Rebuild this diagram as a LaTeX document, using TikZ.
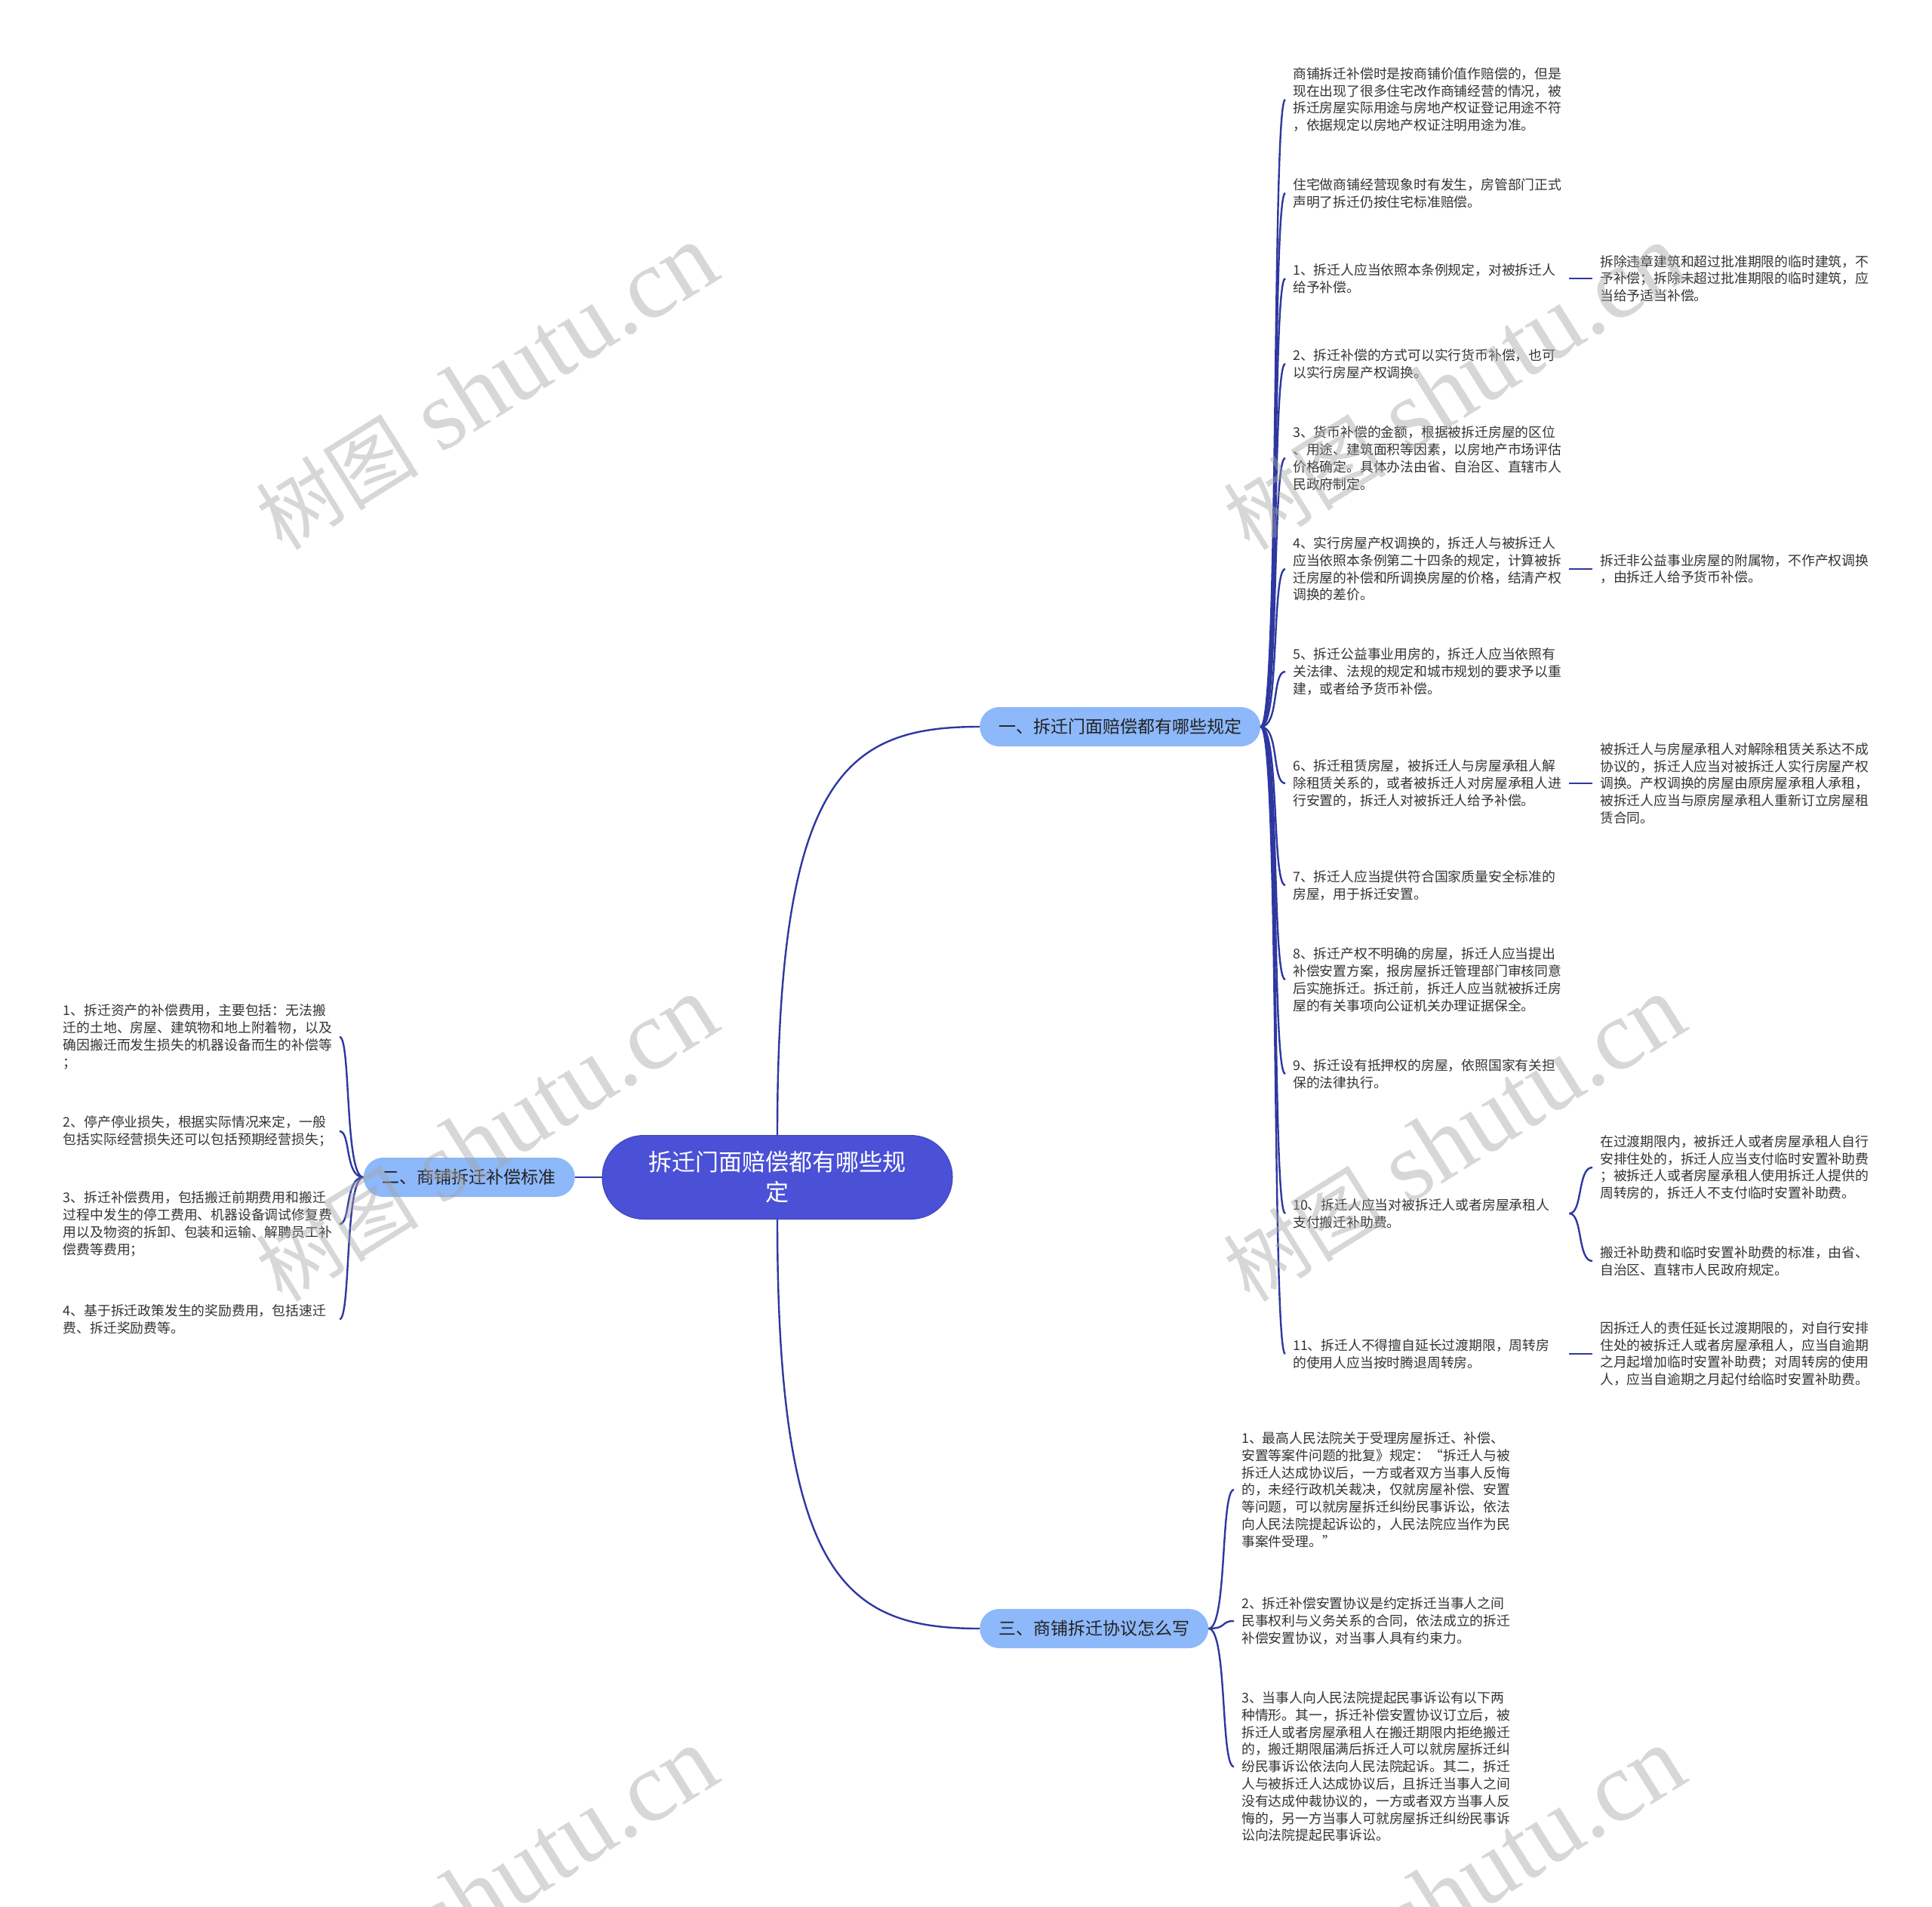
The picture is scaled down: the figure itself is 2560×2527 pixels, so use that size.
\documentclass[tikz,border=0pt]{standalone}
\usepackage{fontspec}
\setmainfont{Noto Sans CJK SC}
\newfontfamily\wmlatin{Liberation Serif}
\definecolor{rootblue}{RGB}{74,81,214}
\definecolor{branchblue}{RGB}{141,184,250}
\definecolor{linkblue}{RGB}{46,56,160}
\definecolor{leaftext}{RGB}{51,51,51}
\definecolor{branchtext}{RGB}{34,34,34}

\begin{document}
\begin{tikzpicture}[x=1pt, y=-1pt,
    rootnode/.style={fill=rootblue, draw=rootblue!85!black, line width=1pt, rounded corners=55pt,
        minimum width=464pt, minimum height=111pt, text=white, align=center,
        font=\fontsize{31}{40}\selectfont},
    branch/.style={fill=branchblue, rounded corners=26pt, minimum height=52pt, inner xsep=25pt,
        text=branchtext, font=\fontsize{23}{28}\selectfont},
    leaf/.style={text width=356pt, align=left, inner xsep=10pt, inner ysep=2pt, text=leaftext,
        font=\fontsize{17.8}{22.8}\selectfont},
    link/.style={draw=linkblue, line width=2.4pt},
    wmtext/.style={text=black!35, text opacity=0.45, rotate=32, inner sep=0pt}]
    \useasboundingbox (0,0) rectangle (2560,2527);

    % Centre and the three sections
    \node[rootnode] (root) at (1030,1560) {拆迁门面赔偿都有哪些规\\定};
    \node[branch, anchor=west] (rule) at (1298,963) {一、拆迁门面赔偿都有哪些规定};
    \node[branch, anchor=east] (std) at (762,1560) {二、商铺拆迁补偿标准};
    \node[branch, anchor=west] (deal) at (1298,2158) {三、商铺拆迁协议怎么写};

    \draw[link] (root.north) .. controls +(0,-475) and +(-178,0) .. (rule.west);
    \draw[link] (root.west) -- (std.east);
    \draw[link] (root.south) .. controls +(0,475) and +(-178,0) .. (deal.west);

    % Section one items
    \node[leaf, anchor=west] (rule1) at (1703,132) {商铺拆迁补偿时是按商铺价值作赔偿的，但是\\现在出现了很多住宅改作商铺经营的情况，被\\拆迁房屋实际用途与房地产权证登记用途不符\\，依据规定以房地产权证注明用途为准。};
    \node[leaf, anchor=west] (rule2) at (1703,256) {住宅做商铺经营现象时有发生，房管部门正式\\声明了拆迁仍按住宅标准赔偿。};
    \node[leaf, anchor=west] (rule3) at (1703,369) {1、拆迁人应当依照本条例规定，对被拆迁人\\给予补偿。};
    \node[leaf, anchor=west] (rule4) at (1703,482) {2、拆迁补偿的方式可以实行货币补偿，也可\\以实行房屋产权调换。};
    \node[leaf, anchor=west] (rule5) at (1703,607) {3、货币补偿的金额，根据被拆迁房屋的区位\\、用途、建筑面积等因素，以房地产市场评估\\价格确定。具体办法由省、自治区、直辖市人\\民政府制定。};
    \node[leaf, anchor=west] (rule6) at (1703,754) {4、实行房屋产权调换的，拆迁人与被拆迁人\\应当依照本条例第二十四条的规定，计算被拆\\迁房屋的补偿和所调换房屋的价格，结清产权\\调换的差价。};
    \node[leaf, anchor=west] (rule7) at (1703,890) {5、拆迁公益事业用房的，拆迁人应当依照有\\关法律、法规的规定和城市规划的要求予以重\\建，或者给予货币补偿。};
    \node[leaf, anchor=west] (rule8) at (1703,1038) {6、拆迁租赁房屋，被拆迁人与房屋承租人解\\除租赁关系的，或者被拆迁人对房屋承租人进\\行安置的，拆迁人对被拆迁人给予补偿。};
    \node[leaf, anchor=west] (rule9) at (1703,1173) {7、拆迁人应当提供符合国家质量安全标准的\\房屋，用于拆迁安置。};
    \node[leaf, anchor=west] (rule10) at (1703,1298) {8、拆迁产权不明确的房屋，拆迁人应当提出\\补偿安置方案，报房屋拆迁管理部门审核同意\\后实施拆迁。拆迁前，拆迁人应当就被拆迁房\\屋的有关事项向公证机关办理证据保全。};
    \node[leaf, anchor=west] (rule11) at (1703,1423) {9、拆迁设有抵押权的房屋，依照国家有关担\\保的法律执行。};
    \node[leaf, anchor=west] (rule12) at (1703,1608) {10、拆迁人应当对被拆迁人或者房屋承租人\\支付搬迁补助费。};
    \node[leaf, anchor=west] (rule13) at (1703,1794) {11、拆迁人不得擅自延长过渡期限，周转房\\的使用人应当按时腾退周转房。};

    \foreach \n in {rule1,rule2,rule3,rule4,rule5,rule6,rule7,rule8,rule9,rule10,rule11,rule12,rule13}
        \draw[link] (rule.east) .. controls +(25,0) and +(-18,0) .. (\n.west);

    % Notes on the right
    \node[leaf, anchor=west] (rule3x) at (2110,369) {拆除违章建筑和超过批准期限的临时建筑，不\\予补偿；拆除未超过批准期限的临时建筑，应\\当给予适当补偿。};
    \node[leaf, anchor=west] (rule6x) at (2110,754) {拆迁非公益事业房屋的附属物，不作产权调换\\，由拆迁人给予货币补偿。};
    \node[leaf, anchor=west] (rule8x) at (2110,1038) {被拆迁人与房屋承租人对解除租赁关系达不成\\协议的，拆迁人应当对被拆迁人实行房屋产权\\调换。产权调换的房屋由原房屋承租人承租，\\被拆迁人应当与原房屋承租人重新订立房屋租\\赁合同。};
    \node[leaf, anchor=west] (rule12x) at (2110,1547) {在过渡期限内，被拆迁人或者房屋承租人自行\\安排住处的，拆迁人应当支付临时安置补助费\\；被拆迁人或者房屋承租人使用拆迁人提供的\\周转房的，拆迁人不支付临时安置补助费。};
    \node[leaf, anchor=west] (rule12y) at (2110,1671) {搬迁补助费和临时安置补助费的标准，由省、\\自治区、直辖市人民政府规定。};
    \node[leaf, anchor=west] (rule13x) at (2110,1794) {因拆迁人的责任延长过渡期限的，对自行安排\\住处的被拆迁人或者房屋承租人，应当自逾期\\之月起增加临时安置补助费；对周转房的使用\\人，应当自逾期之月起付给临时安置补助费。};

    \draw[link] (rule3.east) -- (rule3x.west);
    \draw[link] (rule6.east) -- (rule6x.west);
    \draw[link] (rule8.east) -- (rule8x.west);
    \draw[link] (rule13.east) -- (rule13x.west);
    \draw[link] (rule12.east) .. controls +(18,0) and +(-20,0) .. (rule12x.west);
    \draw[link] (rule12.east) .. controls +(18,0) and +(-20,0) .. (rule12y.west);

    % Section two items (left)
    \node[leaf, anchor=east] (std1) at (450,1374) {1、拆迁资产的补偿费用，主要包括：无法搬\\迁的土地、房屋、建筑物和地上附着物，以及\\确因搬迁而发生损失的机器设备而生的补偿等\\；};
    \node[leaf, anchor=east] (std2) at (450,1499) {2、停产停业损失，根据实际情况来定，一般\\包括实际经营损失还可以包括预期经营损失；};
    \node[leaf, anchor=east] (std3) at (450,1622) {3、拆迁补偿费用，包括搬迁前期费用和搬迁\\过程中发生的停工费用、机器设备调试修复费\\用以及物资的拆卸、包装和运输、解聘员工补\\偿费等费用；};
    \node[leaf, anchor=east] (std4) at (450,1748) {4、基于拆迁政策发生的奖励费用，包括速迁\\费、拆迁奖励费等。};

    \foreach \n in {std1,std2,std3,std4}
        \draw[link] (std.west) .. controls +(-25,0) and +(15,0) .. (\n.east);

    % Section three items
    \node[leaf, anchor=west] (deal1) at (1635,1974) {1、最高人民法院关于受理房屋拆迁、补偿、\\安置等案件问题的批复》规定：“拆迁人与被\\拆迁人达成协议后，一方或者双方当事人反悔\\的，未经行政机关裁决，仅就房屋补偿、安置\\等问题，可以就房屋拆迁纠纷民事诉讼，依法\\向人民法院提起诉讼的，人民法院应当作为民\\事案件受理。”};
    \node[leaf, anchor=west] (deal2) at (1635,2148) {2、拆迁补偿安置协议是约定拆迁当事人之间\\民事权利与义务关系的合同，依法成立的拆迁\\补偿安置协议，对当事人具有约束力。};
    \node[leaf, anchor=west] (deal3) at (1635,2341) {3、当事人向人民法院提起民事诉讼有以下两\\种情形。其一，拆迁补偿安置协议订立后，被\\拆迁人或者房屋承租人在搬迁期限内拒绝搬迁\\的，搬迁期限届满后拆迁人可以就房屋拆迁纠\\纷民事诉讼依法向人民法院起诉。其二，拆迁\\人与被拆迁人达成协议后，且拆迁当事人之间\\没有达成仲裁协议的，一方或者双方当事人反\\悔的，另一方当事人可就房屋拆迁纠纷民事诉\\讼向法院提起民事诉讼。};

    \foreach \n in {deal1,deal2,deal3}
        \draw[link] (deal.east) .. controls +(25,0) and +(-18,0) .. (\n.west);

    % Watermarks
    \begin{scope}
        \clip (0,0) rectangle (2560,2527);
        \foreach \wx/\wy in {645/514, 1927/514, 645/1510, 1927/1510, 645/2506, 1927/2506}
            \node[wmtext] (wm) at (\wx,\wy) {{\fontsize{108}{108}\selectfont 树图}\hspace{30pt}{\wmlatin\fontsize{132}{132}\selectfont shutu.cn}};
    \end{scope}
\end{tikzpicture}
\end{document}
